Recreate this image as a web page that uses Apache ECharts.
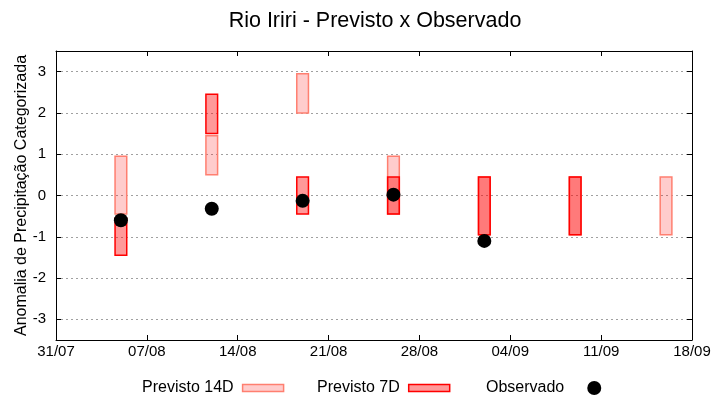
<!DOCTYPE html>
<html>
<head>
<meta charset="utf-8">
<script src="https://cdn.jsdelivr.net/npm/echarts@6/dist/echarts.min.js"></script>
<style>
html,body{margin:0;padding:0;background:#fff;}
#chart{width:720px;height:400px;}
</style>
</head>
<body>
<div id="chart"></div>
<script>
// ---- data ----
const startDate = '2024-07-31';
const endDate = '2024-09-18';
const forecastDates = ['2024-08-05','2024-08-12','2024-08-19','2024-08-26','2024-09-02','2024-09-09','2024-09-16'];
const prev14Low  = [-0.45, 0.5, 2.0, -0.45, -0.95, -0.95, -0.95];
const prev14High = [0.95, 1.45, 2.95, 0.95, 0.45, 0.45, 0.45];
const prev7Low   = [-1.45, 1.5, -0.45, -0.45, -0.95, -0.95, null];
const prev7High  = [-0.55, 2.45, 0.45, 0.45, 0.45, 0.45, null];
const observed   = [-0.6, -0.32, -0.13, 0.02, -1.1, null, null];
const yTicks = [-3, -2, -1, 0, 1, 2, 3];

// ---- helpers ----
const DAY = 86400000;
function toUTC(s){ const p = s.split('-').map(Number); return Date.UTC(p[0], p[1]-1, p[2]); }
const t0 = toUTC(startDate);
const xMax = (toUTC(endDate) - t0) / DAY;
function dayOffset(s){ return (toUTC(s) - t0) / DAY; }
function fmtDay(v){
  const d = new Date(t0 + v * DAY);
  const dd = String(d.getUTCDate()).padStart(2,'0');
  const mm = String(d.getUTCMonth()+1).padStart(2,'0');
  return dd + '/' + mm;
}
function rangeData(lo, hi){
  const out = [];
  forecastDates.forEach((d,i)=>{ if(lo[i]!=null && hi[i]!=null) out.push([dayOffset(d), lo[i], hi[i]]); });
  return out;
}
const obsData = [];
forecastDates.forEach((d,i)=>{ if(observed[i]!=null) obsData.push([dayOffset(d), observed[i]]); });

function makeRender(fill, stroke){
  return function(params, api){
    const x = api.value(0), lo = api.value(1), hi = api.value(2);
    const pTop = api.coord([x, hi]);
    const pBot = api.coord([x, lo]);
    const w = api.size([0.9, 0])[0];
    return {
      type: 'rect',
      shape: {x: pTop[0] - w/2, y: pTop[1], width: w, height: pBot[1] - pTop[1]},
      style: {fill: fill, stroke: stroke, lineWidth: 1.5}
    };
  };
}

const FONT = 'Liberation Sans';
const c14Fill = 'rgba(255,0,0,0.2)', c14Stroke = '#ff7f70';
const c7Fill = 'rgba(255,0,0,0.4)', c7Stroke = '#ff0000';
const legendText = {fontFamily: FONT, fontSize: 16, color: '#000', padding: [0, 4, 0, 0]};

const chart = echarts.init(document.getElementById('chart'), null, {renderer:'canvas'});
chart.setOption({
  animation: false,
  backgroundColor: '#fff',
  textStyle: {fontFamily: FONT},
  title: {
    text: 'Rio Iriri - Previsto x Observado',
    left: 370, top: 5, textAlign: 'center',
    textStyle: {fontFamily: FONT, fontSize: 21.5, fontWeight: 'normal', color: '#000'}
  },
  grid: {left: 56, right: 28, top: 51, bottom: 60, show: false},
  legend: [
    {
      left: 142, top: 380, padding: 0, align: 'right',
      itemWidth: 41, itemHeight: 7, selectedMode: false,
      textStyle: legendText,
      data: [{name: 'Previsto 14D', icon: 'rect', itemStyle: {color: c14Fill, borderColor: c14Stroke, borderWidth: 1.5}}]
    },
    {
      left: 317, top: 380, padding: 0, align: 'right',
      itemWidth: 41, itemHeight: 7, selectedMode: false,
      textStyle: legendText,
      data: [{name: 'Previsto 7D', icon: 'rect', itemStyle: {color: c7Fill, borderColor: c7Stroke, borderWidth: 1.5}}]
    },
    {
      left: 486, top: 380, padding: 0, align: 'right',
      itemWidth: 42, itemHeight: 14, selectedMode: false,
      textStyle: legendText,
      data: [{name: 'Observado', icon: 'circle', itemStyle: {color: '#000', opacity: 1}}]
    }
  ],
  xAxis: [
    {
      type: 'value', min: 0, max: xMax, interval: 7, position: 'bottom',
      axisLine: {show: true, onZero: false, lineStyle: {color: '#000', width: 1}},
      axisTick: {show: true, inside: true, length: 5, lineStyle: {color: '#000'}},
      axisLabel: {formatter: fmtDay, fontFamily: FONT, fontSize: 15, color: '#000', margin: 4},
      splitLine: {show: false}
    },
    {
      type: 'value', min: 0, max: xMax, interval: 7, position: 'top',
      axisLine: {show: true, onZero: false, lineStyle: {color: '#000', width: 1}},
      axisTick: {show: true, inside: true, length: 5, lineStyle: {color: '#000'}},
      axisLabel: {show: false},
      splitLine: {show: false}
    }
  ],
  yAxis: [
    {
      type: 'value', min: -3.5, max: 3.5, splitNumber: 7, position: 'left',
      name: 'Anomalia de Precipitação Categorizada', nameLocation: 'middle', nameGap: 26,
      nameMoveOverlap: false,
      nameTextStyle: {fontFamily: FONT, fontSize: 16, color: '#000'},
      axisLine: {show: true, onZero: false, lineStyle: {color: '#000', width: 1}},
      axisTick: {show: true, inside: true, length: 5, lineStyle: {color: '#000'},
        customValues: yTicks},
      axisLabel: {fontFamily: FONT, fontSize: 15, color: '#000', margin: 10,
        customValues: yTicks,
        formatter: v => String(v)},
      splitLine: {show: true,
        lineStyle: {color: '#a0a0a0', type: [2, 3], width: 1}}
    },
    {
      type: 'value', min: -3.5, max: 3.5, splitNumber: 7, position: 'right',
      axisLine: {show: true, onZero: false, lineStyle: {color: '#000', width: 1}},
      axisTick: {show: true, inside: true, length: 5, lineStyle: {color: '#000'},
        customValues: yTicks},
      axisLabel: {show: false},
      splitLine: {show: false}
    }
  ],
  series: [
    {
      name: 'Previsto 14D', type: 'custom', xAxisIndex: 0, yAxisIndex: 0,
      renderItem: makeRender(c14Fill, c14Stroke),
      itemStyle: {color: c14Fill},
      encode: {x: 0, y: [1, 2]},
      data: rangeData(prev14Low, prev14High), z: 2
    },
    {
      name: 'Previsto 7D', type: 'custom', xAxisIndex: 0, yAxisIndex: 0,
      renderItem: makeRender(c7Fill, c7Stroke),
      itemStyle: {color: c7Fill},
      encode: {x: 0, y: [1, 2]},
      data: rangeData(prev7Low, prev7High), z: 3
    },
    {
      name: 'Observado', type: 'scatter', xAxisIndex: 0, yAxisIndex: 0,
      symbol: 'circle', symbolSize: 14,
      itemStyle: {color: '#000', opacity: 1},
      data: obsData, z: 4
    }
  ]
});
</script>
</body>
</html>
